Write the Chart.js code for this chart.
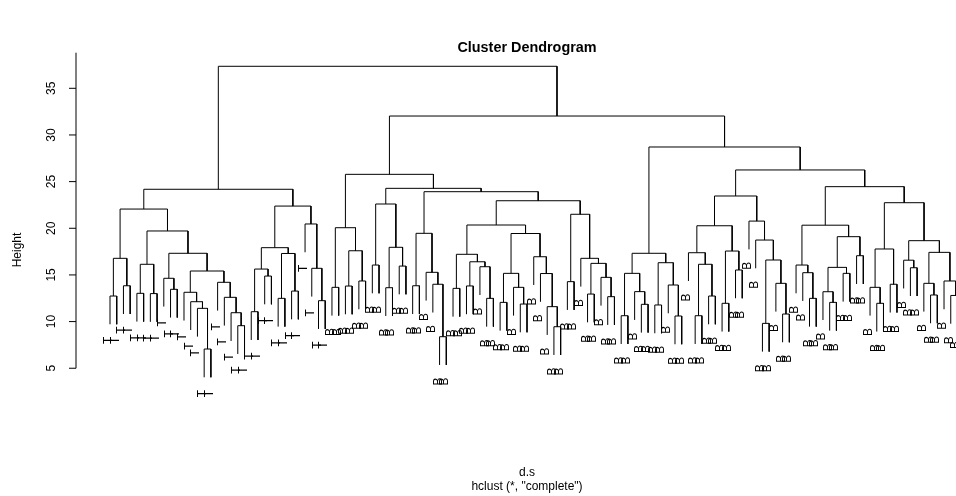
<!DOCTYPE html>
<html>
<head>
<meta charset="utf-8">
<script src="https://cdn.jsdelivr.net/npm/chart.js@4.4.1/dist/chart.umd.min.js"></script>
<style>
html,body{margin:0;padding:0;background:#fff;}
#wrap{width:956px;height:496px;position:relative;}
</style>
</head>
<body>
<div id="wrap"><canvas id="c" width="956" height="496"></canvas></div>
<script>
// Leaf labels in dendrogram order
const leafLabels = [
  "T","T","T","T","T","T","T","T","T","T","T","T","T","T","T","T","T","T","T","T","T","T","T","T","T","T","T","T","T","T","T","T","T",
  "B","B","B","B","B","B","B","B","B","B","B","B","B","B","B","B","B","B","B","B","B","B","B","B","B","B","B","B","B","B","B","B",
  "B","B","B","B","B","B","B","B","B","B","B","B","B","B","B","B","B","B","B","B","B","B","B","B","B","B","B","B","B","B","B","B",
  "B","B","B","B","B","B","B","B","B","B","B","B","B","B","B","B","B","B","B","B","B","B","B","B","B","B","B","B","B","B","B"
];
// Height at which leaf i and leaf i+1 are joined
const joinHeights = [
  12.74,16.78,13.84,22.06,13.03,16.14,13.00,19.71,14.64,13.46,
  17.32,13.14,12.13,11.42,7.06,15.42,14.21,12.60,10.95,9.56,
  24.18,11.06,15.63,14.88,17.92,12.49,17.30,13.27,22.38,20.46,
  15.71,12.24,37.36,13.67,20.06,13.81,17.59,14.35,25.78,16.06,
  22.60,13.63,17.96,15.95,24.28,13.84,19.46,15.28,14.00,8.38,
  23.92,13.56,17.21,13.82,16.41,15.88,12.49,20.35,12.06,15.17,
  13.67,11.88,19.44,16.95,15.15,11.60,9.45,22.95,14.28,21.50,
  16.78,12.95,16.24,14.74,12.67,32.03,10.63,15.17,13.21,11.85,
  17.32,11.78,16.31,13.92,10.60,28.71,17.38,10.63,16.14,12.74,
  20.27,11.96,17.56,15.53,23.46,20.77,18.74,9.81,16.60,14.10,
  10.81,26.25,16.06,15.24,12.49,20.33,13.20,12.06,15.81,15.17,
  19.10,17.06,24.46,13.67,11.96,17.78,14.00,22.74,16.58,15.77,
  18.67,14.10,12.85,17.42,14.35,12.80,12.30
];
const yTicks = [5, 10, 15, 20, 25, 30, 35];
const titleText = "Cluster Dendrogram";
const xLabelText = "d.s";
const subText = 'hclust (*, "complete")';
const yLabelText = "Height";

// ---- build tree from ordered join heights ----
function build(a, b) {
  if (a === b) return { leaf: true, x: a + 1, idx: a };
  let k = a;
  for (let i = a + 1; i < b; i++) if (joinHeights[i] > joinHeights[k]) k = i;
  const L = build(a, k), R = build(k + 1, b);
  return { leaf: false, x: (L.x + R.x) / 2, h: joinHeights[k], L, R };
}
const root = build(0, leafLabels.length - 1);
const maxH = Math.max(...joinHeights), minH = Math.min(...joinHeights);
const hang = 0.1 * (maxH - minH);
const leafBottom = new Array(leafLabels.length);
const datasets = [];
(function walk(n) {
  if (n.leaf) return;
  const lb = n.L.leaf ? n.h - hang : n.L.h;
  const rb = n.R.leaf ? n.h - hang : n.R.h;
  if (n.L.leaf) leafBottom[n.L.idx] = lb;
  if (n.R.leaf) leafBottom[n.R.idx] = rb;
  datasets.push({
    data: [{x: n.L.x, y: lb}, {x: n.L.x, y: n.h}, {x: n.R.x, y: n.h}, {x: n.R.x, y: rb}],
    showLine: true, borderColor: '#000', borderWidth: 1, pointRadius: 0,
    fill: false, tension: 0, clip: false
  });
  walk(n.L); walk(n.R);
})(root);

const FONT = '"Liberation Sans", Arial, Helvetica, sans-serif';
const decor = {
  id: 'decor',
  afterDraw(chart) {
    const ctx = chart.ctx, xs = chart.scales.x, ys = chart.scales.y;
    ctx.save();
    ctx.fillStyle = '#000';
    ctx.strokeStyle = '#000';
    ctx.lineWidth = 1;
    // y axis
    const ax = 76;
    ctx.beginPath();
    ctx.moveTo(ax, ys.getPixelForValue(yTicks[0]));
    ctx.lineTo(ax, 52.7);
    ctx.stroke();
    ctx.font = '12px ' + FONT;
    yTicks.forEach(v => {
      const y = ys.getPixelForValue(v);
      ctx.beginPath(); ctx.moveTo(ax, y); ctx.lineTo(ax - 7, y); ctx.stroke();
      ctx.save(); ctx.translate(55, y); ctx.rotate(-Math.PI / 2);
      ctx.textAlign = 'center'; ctx.textBaseline = 'alphabetic';
      ctx.fillText(String(v), 0, 0); ctx.restore();
    });
    // leaf labels
    leafLabels.forEach((lab, i) => {
      const x = xs.getPixelForValue(i + 1) + 2;
      const y = ys.getPixelForValue(leafBottom[i]) + 12.5;
      ctx.save(); ctx.translate(x, y); ctx.rotate(-Math.PI / 2);
      ctx.textAlign = 'right'; ctx.textBaseline = 'alphabetic';
      ctx.fillText(lab, 0, 0); ctx.restore();
    });
    // y label
    ctx.save(); ctx.translate(20.5, 250); ctx.rotate(-Math.PI / 2);
    ctx.textAlign = 'center'; ctx.fillText(yLabelText, 0, 0); ctx.restore();
    // x label and sub
    ctx.textAlign = 'center';
    ctx.fillText(xLabelText, 527, 475.5);
    ctx.fillText(subText, 527, 490);
    // title
    ctx.font = 'bold 14.4px ' + FONT;
    ctx.fillText(titleText, 527, 51.5);
    ctx.restore();
  }
};

new Chart(document.getElementById('c').getContext('2d'), {
  type: 'scatter',
  data: { datasets },
  options: {
    responsive: false,
    animation: false,
    events: [],
    devicePixelRatio: 1,
    layout: { padding: { left: 76, right: 0, top: 41.65, bottom: 81.1 } },
    plugins: { legend: { display: false }, tooltip: { enabled: false }, title: { display: false } },
    scales: {
      x: { type: 'linear', min: -4.055, max: 126.78, display: false },
      y: { type: 'linear', min: 0, max: 40, display: false }
    },
    elements: { point: { radius: 0 }, line: { tension: 0 } }
  },
  plugins: [decor]
});
</script>
</body>
</html>
